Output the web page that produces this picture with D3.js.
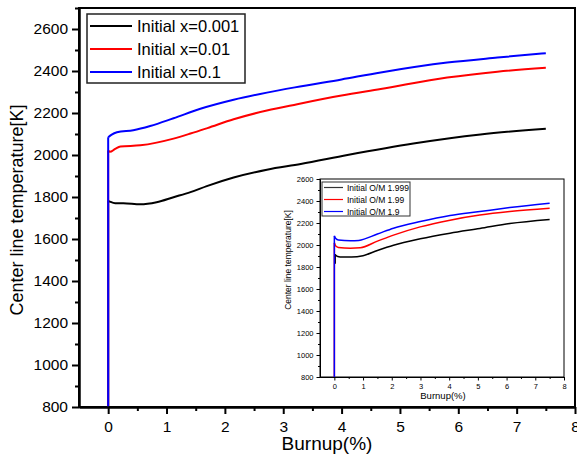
<!DOCTYPE html>
<html>
<head>
<meta charset="utf-8">
<script src="https://cdn.jsdelivr.net/npm/d3@7/dist/d3.min.js"></script>
<style>
  html, body { margin: 0; padding: 0; background: #fff; }
  svg { display: block; font-family: "Liberation Sans", Arial, sans-serif; }
</style>
</head>
<body>
<svg id="chart" width="577" height="458"></svg>
<script>
// ---- Main plot: centre-line temperature vs burnup, for initial x values ----
const mainLabels = ["Initial x=0.001", "Initial x=0.01", "Initial x=0.1"];
const seriesColors = ["#000000", "#ff0000", "#0000ff"];

const mainBlackX = [0, 0, 0.03, 0.12, 0.26, 0.55, 0.83, 1.12, 1.41, 1.69, 2.15, 2.72, 3.3, 4.1, 5.23, 6.38, 7.5];
const mainBlackY = [800, 1782, 1778, 1770, 1770, 1765, 1775, 1799, 1823, 1852, 1893, 1930, 1957, 2000, 2055, 2098, 2125];

const mainRedX = [0, 0, 0.03, 0.12, 0.21, 0.55, 0.83, 1.12, 1.41, 1.7, 2.15, 2.72, 3.24, 4.0, 4.67, 5.81, 6.67, 7.5];
const mainRedY = [800, 2022, 2015, 2029, 2040, 2046, 2059, 2078, 2102, 2128, 2170, 2212, 2242, 2283, 2314, 2369, 2397, 2416];

const mainBlueX = [0, 0, 0.06, 0.15, 0.43, 0.72, 1.12, 1.58, 2.15, 2.72, 3.2, 4.0, 4.67, 5.81, 6.67, 7.5];
const mainBlueY = [800, 2084, 2097, 2108, 2118, 2138, 2175, 2220, 2263, 2297, 2322, 2360, 2393, 2440, 2464, 2485];

// ---- Inset: same quantity for initial O/M ratios ----
const insetLabels = ["Initial O/M 1.999", "Initial O/M 1.99", "Initial O/M 1.9"];

const insetBlackX = [0.03, 0.03, 0.06, 0.12, 0.2, 0.6, 1.0, 1.5, 2.06, 2.99, 4.03, 5.07, 6.11, 7.5];
const insetBlackY = [1830, 1915, 1905, 1895, 1892, 1890, 1903, 1950, 1998, 2056, 2107, 2150, 2195, 2232];

const insetRedX = [0, 0, 0.05, 0.14, 0.56, 0.9, 1.5, 2.06, 2.99, 4.03, 5.07, 6.11, 7.5];
const insetRedY = [800, 2020, 1990, 1978, 1971, 1975, 2035, 2090, 2165, 2226, 2272, 2304, 2334];

const insetBlueX = [0, 0, 0.05, 0.14, 0.56, 0.85, 1.5, 2.06, 2.99, 4.03, 5.07, 6.11, 7.5];
const insetBlueY = [800, 2083, 2058, 2045, 2038, 2042, 2100, 2153, 2213, 2268, 2304, 2340, 2380];

// ---- Tick values ----
const xMajor = [0, 1, 2, 3, 4, 5, 6, 7, 8];
const xMinor = [0.5, 1.5, 2.5, 3.5, 4.5, 5.5, 6.5, 7.5];
const yMainMajor = [800, 1000, 1200, 1400, 1600, 1800, 2000, 2200, 2400, 2600];
const yMainMinor = [900, 1100, 1300, 1500, 1700, 1900, 2100, 2300, 2500, 2700];
const yInsetMajor = [800, 1000, 1200, 1400, 1600, 1800, 2000, 2200, 2400, 2600];
const yInsetMinor = [900, 1100, 1300, 1500, 1700, 1900, 2100, 2300, 2500];

const svg = d3.select("#chart");

// Draws one curve: the leading vertical rise as straight segments, the rest smoothed.
function drawSeries(g, xs, ys, sx, sy, color, width) {
  const pts = xs.map((v, i) => [v, ys[i]]);
  let k = 0;
  while (k + 1 < pts.length && pts[k + 1][0] === pts[0][0]) k++;
  const lin = d3.line().x(d => sx(d[0])).y(d => sy(d[1]));
  const smooth = d3.line().x(d => sx(d[0])).y(d => sy(d[1])).curve(d3.curveMonotoneX);
  if (k > 0) {
    g.append("path").attr("d", lin(pts.slice(0, k + 1)))
      .attr("fill", "none").attr("stroke", color).attr("stroke-width", width);
  }
  g.append("path").attr("d", smooth(pts.slice(k)))
    .attr("fill", "none").attr("stroke", color).attr("stroke-width", width)
    .attr("stroke-linejoin", "round");
}

function styleAxis(sel, width, fontSize) {
  sel.select(".domain").attr("stroke", "#000").attr("stroke-width", width);
  sel.selectAll(".tick line").attr("stroke", "#000").attr("stroke-width", width);
  sel.selectAll(".tick text").attr("fill", "#000")
    .attr("font-size", fontSize).attr("font-family", "Liberation Sans, Arial, sans-serif");
}

// ================= MAIN =================
const x = d3.scaleLinear().domain([-0.5, 8]).range([79, 575]);
const y = d3.scaleLinear().domain([800, 2700]).range([407, 8]);

const main = svg.append("g");

// frame
main.append("rect")
  .attr("x", x(-0.5)).attr("y", y(2700))
  .attr("width", x(8) - x(-0.5)).attr("height", y(800) - y(2700))
  .attr("fill", "none").attr("stroke", "#000").attr("stroke-width", 2);

const mainSeries = [[mainBlackX, mainBlackY], [mainRedX, mainRedY], [mainBlueX, mainBlueY]];
const mainLines = main.append("g");
mainSeries.forEach((s, i) => drawSeries(mainLines, s[0], s[1], x, y, seriesColors[i], 2));

// x axis
main.append("g").attr("transform", `translate(0,${y(800)})`)
  .call(d3.axisBottom(x).tickValues(xMinor).tickSize(4).tickSizeOuter(0).tickFormat(""))
  .call(g => styleAxis(g, 2, 15));
main.append("g").attr("transform", `translate(0,${y(800)})`)
  .call(d3.axisBottom(x).tickValues(xMajor).tickSize(7).tickSizeOuter(0).tickPadding(7).tickFormat(d3.format("d")))
  .call(g => styleAxis(g, 2, 15.5));

// y axis
main.append("g").attr("transform", `translate(${x(-0.5)},0)`)
  .call(d3.axisLeft(y).tickValues(yMainMinor).tickSize(4).tickSizeOuter(0).tickFormat(""))
  .call(g => styleAxis(g, 2, 15));
main.append("g").attr("transform", `translate(${x(-0.5)},0)`)
  .call(d3.axisLeft(y).tickValues(yMainMajor).tickSize(7).tickSizeOuter(0).tickPadding(4).tickFormat(d3.format("d")))
  .call(g => styleAxis(g, 2, 15.5));

// axis titles
main.append("text").text("Burnup(%)")
  .attr("x", 327).attr("y", 450).attr("text-anchor", "middle")
  .attr("font-size", 19).attr("fill", "#000");
main.append("text").text("Center line temperature[K]")
  .attr("transform", "translate(23,210) rotate(-90)").attr("text-anchor", "middle")
  .attr("font-size", 18).attr("fill", "#000");

// legend
const leg = main.append("g");
leg.append("rect").attr("x", 87).attr("y", 14).attr("width", 158).attr("height", 69)
  .attr("fill", "#fff").attr("stroke", "#222").attr("stroke-width", 1.5);
mainLabels.forEach((lab, i) => {
  const ly = 26 + i * 23;
  leg.append("line").attr("x1", 90).attr("x2", 132).attr("y1", ly).attr("y2", ly)
    .attr("stroke", seriesColors[i]).attr("stroke-width", 2);
  leg.append("text").text(lab).attr("x", 137).attr("y", ly + 6)
    .attr("font-size", 16.5).attr("fill", "#000");
});

// ================= INSET =================
const ix = d3.scaleLinear().domain([-0.5, 8]).range([320, 564]);
const iy = d3.scaleLinear().domain([800, 2600]).range([377, 179]);
const inset = svg.append("g");

inset.append("rect")
  .attr("x", ix(-0.5)).attr("y", iy(2600))
  .attr("width", ix(8) - ix(-0.5)).attr("height", iy(800) - iy(2600))
  .attr("fill", "#fff").attr("stroke", "#000").attr("stroke-width", 1);

const insetSeries = [[insetBlackX, insetBlackY], [insetRedX, insetRedY], [insetBlueX, insetBlueY]];
const insetLines = inset.append("g");
insetSeries.forEach((s, i) => drawSeries(insetLines, s[0], s[1], ix, iy, seriesColors[i], 1.5));

inset.append("g").attr("transform", `translate(0,${iy(800)})`)
  .call(d3.axisBottom(ix).tickValues(xMinor).tickSize(2).tickSizeOuter(0).tickFormat(""))
  .call(g => styleAxis(g, 1, 7.5));
inset.append("g").attr("transform", `translate(0,${iy(800)})`)
  .call(d3.axisBottom(ix).tickValues(xMajor).tickSize(3.5).tickSizeOuter(0).tickPadding(3).tickFormat(d3.format("d")))
  .call(g => styleAxis(g, 1, 7.5));
inset.append("g").attr("transform", `translate(${ix(-0.5)},0)`)
  .call(d3.axisLeft(iy).tickValues(yInsetMinor).tickSize(2).tickSizeOuter(0).tickFormat(""))
  .call(g => styleAxis(g, 1, 7.5));
inset.append("g").attr("transform", `translate(${ix(-0.5)},0)`)
  .call(d3.axisLeft(iy).tickValues(yInsetMajor).tickSize(3.5).tickSizeOuter(0).tickPadding(3).tickFormat(d3.format("d")))
  .call(g => styleAxis(g, 1, 7.5));

inset.append("text").text("Burnup(%)")
  .attr("x", 443).attr("y", 399).attr("text-anchor", "middle")
  .attr("font-size", 9.5).attr("fill", "#000");
inset.append("text").text("Center line temperature[K]")
  .attr("transform", "translate(291,260) rotate(-90)").attr("text-anchor", "middle")
  .attr("font-size", 8.5).attr("fill", "#000");

const ileg = inset.append("g");
ileg.append("rect").attr("x", 322).attr("y", 182).attr("width", 88).attr("height", 34)
  .attr("fill", "#fff").attr("stroke", "#333").attr("stroke-width", 1);
insetLabels.forEach((lab, i) => {
  const ly = 187.5 + i * 12;
  ileg.append("line").attr("x1", 324).attr("x2", 343).attr("y1", ly).attr("y2", ly)
    .attr("stroke", seriesColors[i] === "#000000" ? "#333" : seriesColors[i]).attr("stroke-width", 1.2);
  ileg.append("text").text(lab).attr("x", 347).attr("y", ly + 3)
    .attr("font-size", 8.5).attr("fill", "#000");
});
</script>
</body>
</html>
